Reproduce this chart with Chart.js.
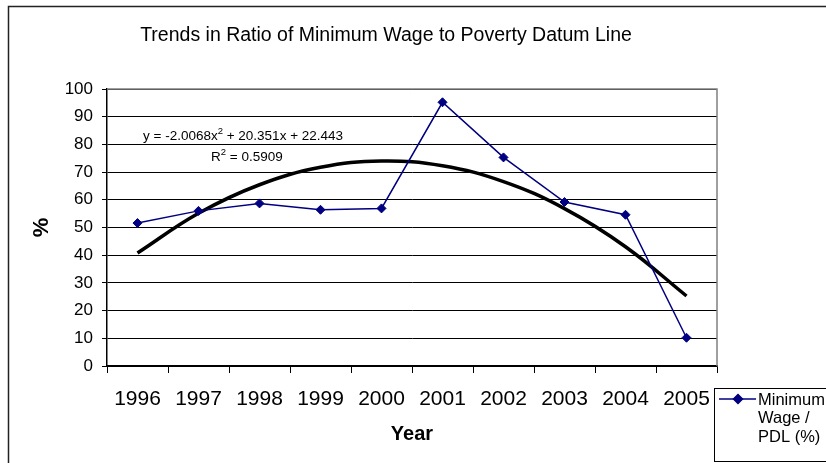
<!DOCTYPE html>
<html>
<head>
<meta charset="utf-8">
<title>Minimum Wage to Poverty Datum Line</title>
<script src="https://cdn.jsdelivr.net/npm/chart.js@4.4.1/dist/chart.umd.min.js"></script>
<style>
  html, body { margin: 0; padding: 0; background: #fff; }
  #wrap { width: 826px; height: 463px; position: relative; }
</style>
</head>
<body>
<div id="wrap"><canvas id="chart" width="826" height="463"></canvas></div>
<script>
// ---- data ----
const years = ['1996', '1997', '1998', '1999', '2000', '2001', '2002', '2003', '2004', '2005'];
const wagePdl = [51.6, 56.0, 58.7, 56.4, 56.9, 95.2, 75.3, 59.2, 54.6, 10.2];
// polynomial trendline (order 2): a*x^2 + b*x + c, x = 1..10
const trendCoef = [-2.0068, 20.351, 22.443];
const trendR2 = 0.5909;
const yMin = 0, yMax = 100, yStep = 10;

const trendVals = years.map((_, i) => {
  const x = i + 1;
  return trendCoef[0] * x * x + trendCoef[1] * x + trendCoef[2];
});

const FONT = 'Arial, "Liberation Sans", sans-serif';
const NAVY = '#000080';

function fmtNum(v, d) { return v.toFixed(d); }

// frame, title, trend equation and legend box
const decor = {
  id: 'decor',
  beforeDraw(chart) {
    const ctx = chart.ctx;
    ctx.save();
    ctx.fillStyle = '#fff';
    ctx.fillRect(0, 0, chart.width, chart.height);
    ctx.strokeStyle = '#222';
    ctx.lineWidth = 1.5;
    ctx.strokeRect(8.5, 6.5, chart.width + 20, chart.height + 20);
    ctx.restore();
  },
  beforeDatasetsDraw(chart) {
    const { ctx, chartArea: a } = chart;
    ctx.save();
    ctx.strokeStyle = '#808080';
    ctx.lineWidth = 1.5;
    ctx.beginPath();
    ctx.moveTo(a.left, a.top);
    ctx.lineTo(a.right, a.top);
    ctx.lineTo(a.right, a.bottom);
    ctx.stroke();
    ctx.restore();
  },
  afterDraw(chart) {
    const ctx = chart.ctx;
    ctx.save();
    ctx.fillStyle = '#000';
    ctx.textBaseline = 'alphabetic';

    // title
    ctx.font = '19.5px ' + FONT;
    ctx.textAlign = 'center';
    ctx.fillText('Trends in Ratio of Minimum Wage to Poverty Datum Line', 386, 41);

    // trendline equation
    ctx.textAlign = 'left';
    const sign = v => (v < 0 ? ' - ' : ' + ');
    const parts1 = [
      ['y = ' + fmtNum(trendCoef[0], 4) + 'x', false],
      ['2', true],
      [sign(trendCoef[1]) + fmtNum(Math.abs(trendCoef[1]), 3) + 'x' + sign(trendCoef[2]) + fmtNum(Math.abs(trendCoef[2]), 3), false]
    ];
    const parts2 = [['R', false], ['2', true], [' = ' + fmtNum(trendR2, 4), false]];
    const drawRich = (parts, x, y) => {
      parts.forEach(([t, sup]) => {
        ctx.font = (sup ? '9.5px ' : '13.5px ') + FONT;
        ctx.fillText(t, x, sup ? y - 6 : y);
        x += ctx.measureText(t).width;
      });
    };
    drawRich(parts1, 143, 140);
    drawRich(parts2, 211, 161);

    // legend
    const ds = chart.data.datasets[0];
    ctx.strokeStyle = '#000';
    ctx.lineWidth = 1;
    ctx.strokeRect(714.5, 388.5, 140, 73);
    ctx.strokeStyle = ds.borderColor;
    ctx.lineWidth = ds.borderWidth;
    ctx.beginPath();
    ctx.moveTo(719, 399);
    ctx.lineTo(756, 399);
    ctx.stroke();
    Chart.helpers.drawPoint(ctx, { pointStyle: 'rectRot', radius: ds.pointRadius, borderWidth: 1 }, 738, 399);
    ctx.fillStyle = ds.borderColor;
    ctx.fill();
    ctx.fillStyle = '#000';
    ctx.font = '16.5px ' + FONT;
    ctx.textBaseline = 'middle';
    ['Minimum', 'Wage /', 'PDL (%)'].forEach((t, i) => ctx.fillText(t, 758, 400 + i * 18.5));
    ctx.restore();
  }
};

new Chart(document.getElementById('chart'), {
  type: 'line',
  data: {
    labels: years,
    datasets: [
      {
        label: 'Minimum Wage / PDL (%)',
        data: wagePdl,
        borderColor: NAVY,
        backgroundColor: NAVY,
        borderWidth: 1.5,
        pointStyle: 'rectRot',
        pointRadius: 4.5,
        pointBorderWidth: 1,
        tension: 0,
        order: 1
      },
      {
        label: 'Trend',
        data: trendVals,
        borderColor: '#000',
        borderWidth: 3.5,
        pointRadius: 0,
        tension: 0.4,
        order: 2
      }
    ]
  },
  options: {
    responsive: false,
    devicePixelRatio: 1,
    animation: false,
    layout: { padding: { left: 0, top: 89, right: 109, bottom: 0 } },
    plugins: {
      legend: { display: false },
      title: { display: false },
      tooltip: { enabled: false }
    },
    scales: {
      x: {
        offset: true,
        grid: { offset: true, drawOnChartArea: false, tickLength: 7, color: '#000', lineWidth: 1 },
        border: { color: '#000', width: 1.5 },
        ticks: { color: '#000', font: { family: FONT, size: 21 }, padding: 14, maxRotation: 0, autoSkip: false },
        title: { display: true, text: 'Year', color: '#000', font: { family: FONT, size: 20, weight: 'bold' }, padding: { top: 0, bottom: 17 } },
        afterFit: s => { s.height = 97; }
      },
      y: {
        min: yMin,
        max: yMax,
        ticks: { stepSize: yStep, color: '#000', font: { family: FONT, size: 17 }, padding: 9 },
        grid: { color: '#000', lineWidth: 1, tickLength: 5 },
        border: { color: '#000', width: 1.5 },
        title: { display: true, text: '%', color: '#000', font: { family: FONT, size: 22, weight: 'bold' }, padding: { top: 29, bottom: 0 } },
        afterFit: s => { s.width = 107; }
      }
    }
  },
  plugins: [decor]
});
</script>
</body>
</html>
